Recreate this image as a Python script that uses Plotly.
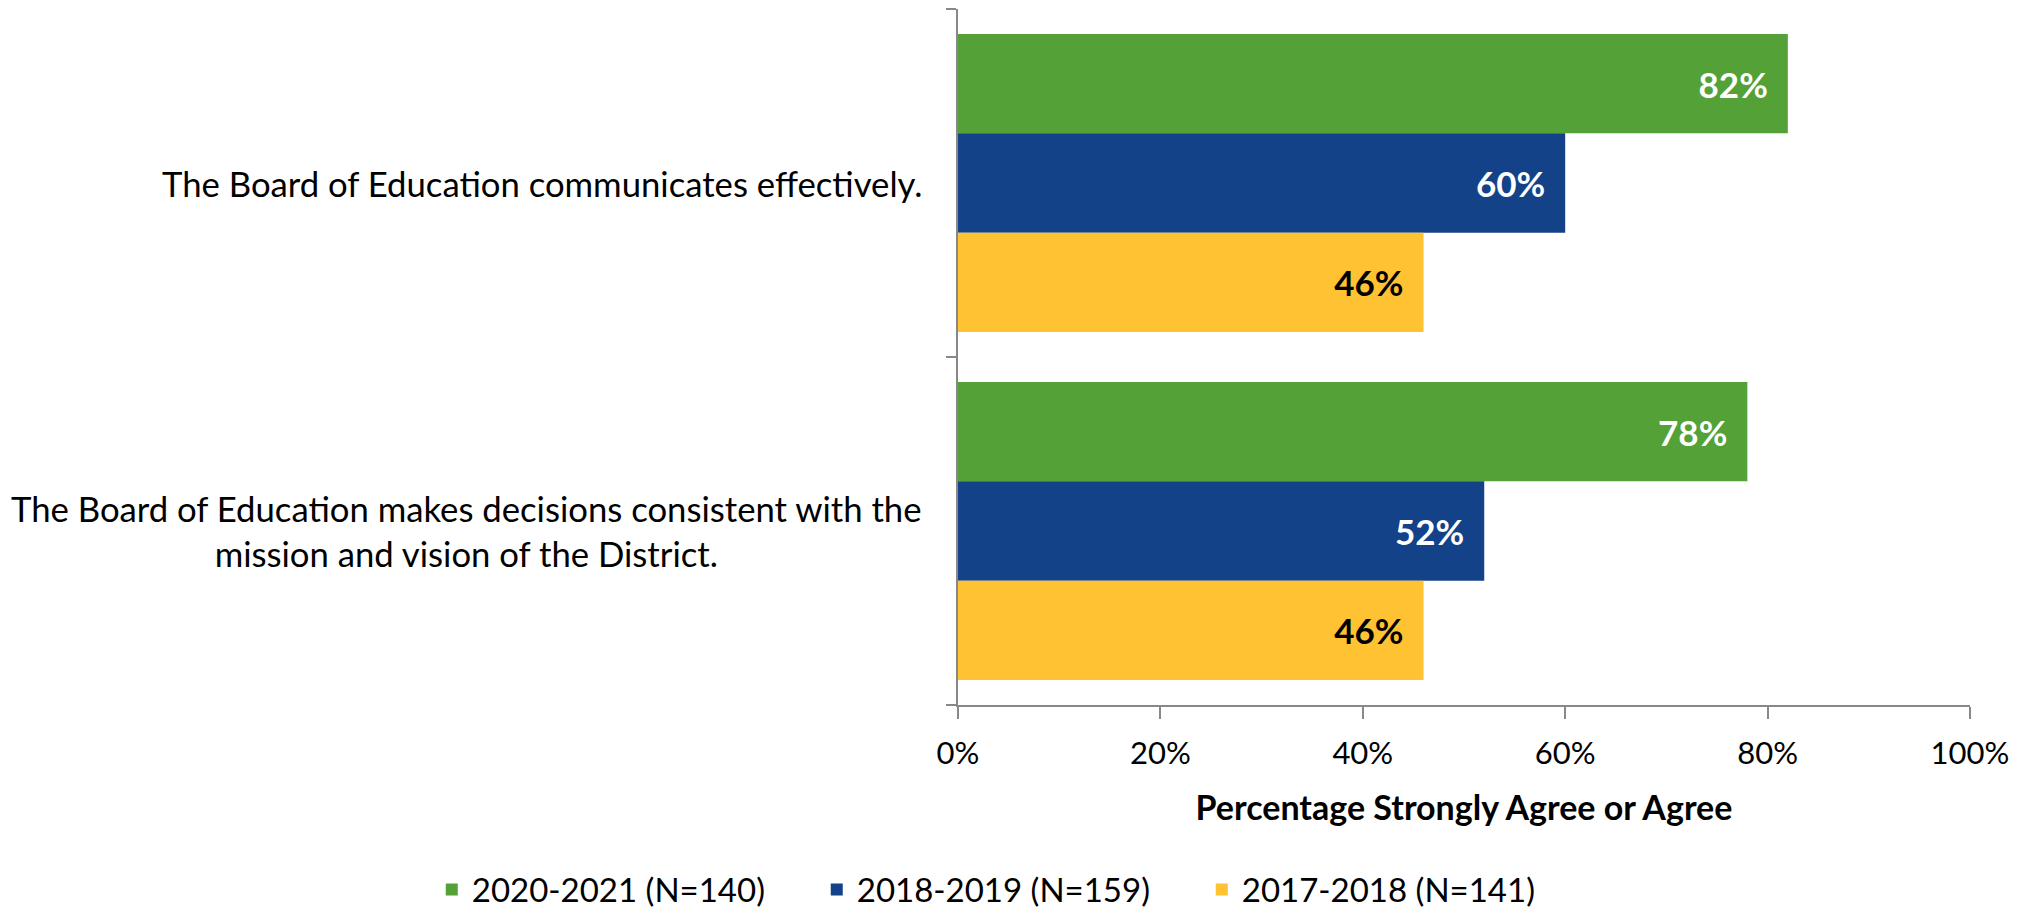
import plotly.graph_objects as go

categories = [
    "The Board of Education communicates effectively.",
    "The Board of Education makes decisions consistent with the<br>mission and vision of the District.",
]
series_names = ["2020-2021 (N=140)", "2018-2019 (N=159)", "2017-2018 (N=141)"]
values_2020 = [82, 78]
values_2018 = [60, 52]
values_2017 = [46, 46]
colors = ["#54A138", "#134289", "#FFC232"]
label_colors = ["white", "white", "black"]
x_ticks = [0, 20, 40, 60, 80, 100]
x_ticklabels = ["0%", "20%", "40%", "60%", "80%", "100%"]

FONT = "Lato"
NB = "\u00a0"
fig = go.Figure()
for name, vals, col, lc in zip(series_names, [values_2020, values_2018, values_2017], colors, label_colors):
    fig.add_trace(go.Bar(
        y=list(range(len(categories))), x=vals, name=name, orientation="h",
        marker=dict(color=col, line=dict(width=0)),
        text=[f"{v}%{NB}{NB}" for v in vals], textposition="inside", insidetextanchor="end",
        textfont=dict(family=FONT, size=35, color=lc, weight="bold"),
        cliponaxis=False,
    ))

for i, c in enumerate(categories):
    fig.add_annotation(x=0, y=i, xref="x", yref="y", text=c, showarrow=False,
                       xanchor="right", yanchor="middle", align="center", xshift=-34,
                       font=dict(family=FONT, size=34.7, color="black"))

fig.update_layout(
    width=2033, height=910,
    margin=dict(l=950, r=71, t=1, b=211),
    barmode="group", bargap=0.143, bargroupgap=0,
    plot_bgcolor="white", paper_bgcolor="white",
    font=dict(family=FONT, color="black"),
    showlegend=True,
    legend=dict(orientation="h", x=-0.52, xanchor="left", y=-0.265, yanchor="middle",
                font=dict(family=FONT, size=33, color="black"), traceorder="normal",
                entrywidth=340, itemwidth=30),
    xaxis=dict(range=[0, 100], tickvals=x_ticks, ticktext=x_ticklabels,
               showgrid=False, zeroline=False, showline=True, linecolor="#888888", linewidth=2,
               ticks="outside", ticklen=12, tickcolor="#888888", tickwidth=2,
               ticklabelstandoff=8,
               tickfont=dict(family=FONT, size=31, color="black"),
               title=dict(text="<b>Percentage Strongly Agree or Agree</b>",
                          font=dict(family=FONT, size=34, color="black"), standoff=26)),
    yaxis=dict(range=[1.5, -0.5], tickvals=[-0.5, 0.5, 1.5], ticktext=["", "", ""],
               showgrid=False, zeroline=False, showline=True, linecolor="#888888", linewidth=2,
               ticks="outside", ticklen=10, tickcolor="#888888", tickwidth=2),
)

fig.write_html("out.html")
